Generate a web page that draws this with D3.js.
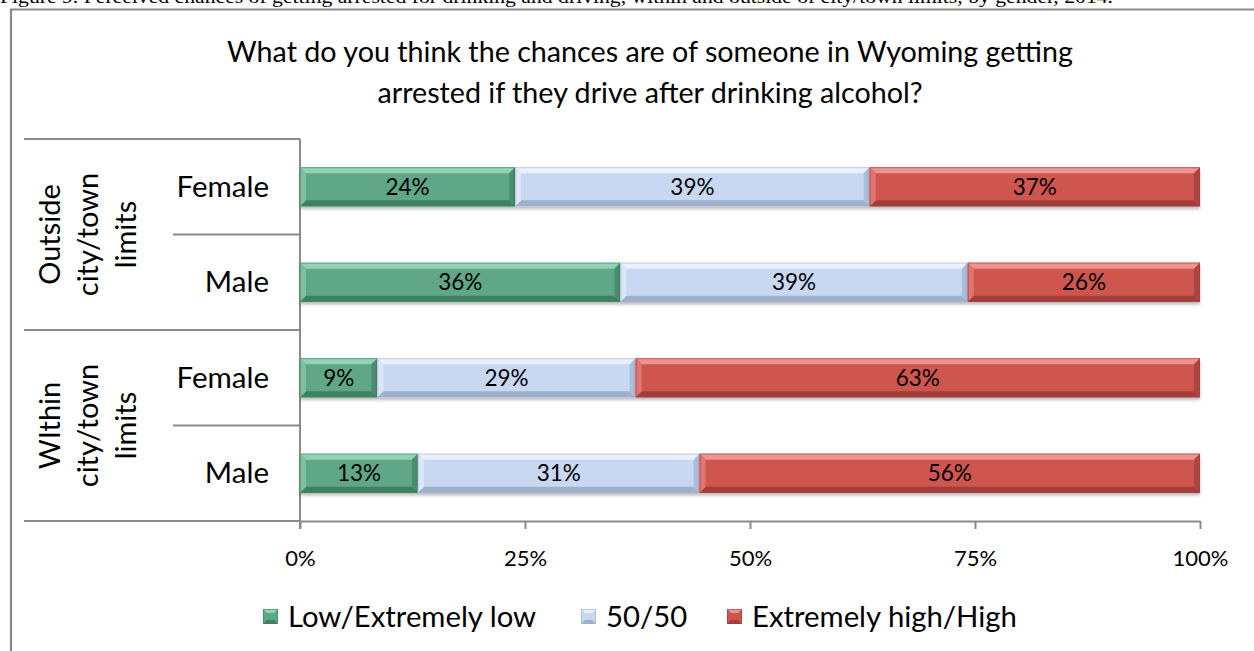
<!DOCTYPE html>
<html>
<head>
<meta charset="utf-8">
<script src="https://cdn.jsdelivr.net/npm/d3@7"></script>
<style>
  html, body { margin: 0; padding: 0; background: #fff; }
  svg { display: block; }
  text { font-family: Lato, "Open Sans", sans-serif; fill: #000; }
</style>
</head>
<body>
<script>
// ---------------- data ----------------
const caption = "Figure 9. Perceived chances of getting arrested for drinking and driving, within and outside of city/town limits, by gender, 2014.";
const titleLines = ["What do you think the chances are of someone in Wyoming getting", "arrested if they drive after drinking alcohol?"];
const groupLabels = [["Outside", "city/town", "limits"], ["WIthin", "city/town", "limits"]];
const genders = ["Female", "Male", "Female", "Male"];
const seriesNames = ["Low/Extremely low", "50/50", "Extremely high/High"];
const lowValues  = [23.9, 35.6, 8.6, 13.1];
const midValues  = [39.4, 38.6, 28.7, 31.3];
const highValues = [36.7, 25.8, 62.7, 55.6];
const tickValues = [0, 25, 50, 75, 100];

// ---------------- styles ----------------
const palette = [
  { base: "#5fa786", top: "#92d3b3", bottom: "#3f8062", left: "#7cc0a0", right: "#4b8f70" },
  { base: "#c9d8f2", top: "#eaf1fd", bottom: "#9fb0cc", left: "#dbe6f8", right: "#aebdd8" },
  { base: "#cf5450", top: "#ec9490", bottom: "#a03e3a", left: "#e07470", right: "#ad4642" }
];

const W = 1254, H = 651;
const svg = d3.select("body").append("svg").attr("width", W).attr("height", H);

const defs = svg.append("defs");
const f = defs.append("filter").attr("id", "shadow").attr("x", "-5%").attr("y", "-30%").attr("width", "110%").attr("height", "170%");
f.append("feDropShadow").attr("dx", 0).attr("dy", 2.5).attr("stdDeviation", 1.6)
  .attr("flood-color", "#000").attr("flood-opacity", 0.28);

// caption (cut at top, as in the source)
svg.append("text")
  .attr("x", 0).attr("y", 3)
  .style("font-family", "'Liberation Serif', 'DejaVu Serif', serif")
  .style("font-size", "19px")
  .attr("textLength", 1113).attr("lengthAdjust", "spacingAndGlyphs")
  .text(caption);

// frame
svg.append("path")
  .attr("d", `M11,${H} L11,9.5 L${W},9.5`)
  .attr("fill", "none").attr("stroke", "#8a8a8a").attr("stroke-width", 2.2);

// title
svg.append("g").selectAll("text").data(titleLines).join("text")
  .attr("x", 650).attr("y", (d, i) => 62 + i * 41)
  .attr("text-anchor", "middle")
  .style("font-size", "28.7px")
  .text(d => d);

// scales
const x = d3.scaleLinear().domain([0, 100]).range([300, 1200]);
const rows = d3.range(genders.length);
const y = d3.scaleBand().domain(rows).range([139, 521]).paddingInner(0.59).paddingOuter(0.295);
const step = y.step();
const boundary = i => (i === 0 ? y.range()[0] : i === rows.length ? y.range()[1] : y(i) - y.paddingInner() * step / 2);

// stacked data
const table = rows.map(i => ({ row: i, low: lowValues[i], mid: midValues[i], high: highValues[i] }));
const stack = d3.stack().keys(["low", "mid", "high"]);
const series = stack(table);

// category grid lines (left side)
const gridColor = "#8a8a8a";
const gl = svg.append("g");
rows.concat([rows.length]).forEach(i => {
  const major = i % 2 === 0;
  gl.append("line")
    .attr("x1", major ? 24 : 173).attr("x2", x(0))
    .attr("y1", boundary(i)).attr("y2", boundary(i))
    .attr("stroke", gridColor).attr("stroke-width", 2);
});

// x axis
const axisG = svg.append("g").attr("transform", `translate(0,${y.range()[1]})`)
  .call(d3.axisBottom(x).tickValues(tickValues).tickFormat(d => d + "%").tickSize(8).tickSizeOuter(0));
axisG.select(".domain").attr("stroke", gridColor).attr("stroke-width", 2);
axisG.selectAll(".tick line").attr("stroke", gridColor).attr("stroke-width", 2);
axisG.selectAll(".tick text").attr("y", 45).attr("dy", 0)
  .style("font-family", "Lato, sans-serif").style("font-size", "22px").attr("fill", "#000");

// vertical axis line
svg.append("line")
  .attr("x1", x(0)).attr("x2", x(0))
  .attr("y1", y.range()[0]).attr("y2", y.range()[1] + 8)
  .attr("stroke", gridColor).attr("stroke-width", 2);

// bars with bevel
const bev = 6;
const barsG = svg.append("g");
series.forEach((s, si) => {
  const col = palette[si];
  const g = barsG.append("g");
  const seg = g.selectAll("g.seg").data(s).join("g").attr("class", "seg");
  seg.each(function (d, k) {
    const el = d3.select(this);
    const x0 = x(d[0]), x1 = x(d[1]);
    const y0 = y(k), y1 = y(k) + y.bandwidth();
    const b = Math.min(bev, (x1 - x0) / 2);
    el.append("rect").attr("x", x0).attr("y", y0).attr("width", x1 - x0).attr("height", y1 - y0)
      .attr("fill", col.base).attr("filter", "url(#shadow)");
    el.append("path").attr("d", `M${x0},${y0}L${x1},${y0}L${x1 - b},${y0 + b}L${x0 + b},${y0 + b}Z`).attr("fill", col.top);
    el.append("path").attr("d", `M${x0},${y1}L${x1},${y1}L${x1 - b},${y1 - b}L${x0 + b},${y1 - b}Z`).attr("fill", col.bottom);
    el.append("path").attr("d", `M${x0},${y0}L${x0 + b},${y0 + b}L${x0 + b},${y1 - b}L${x0},${y1}Z`).attr("fill", col.left);
    el.append("path").attr("d", `M${x1},${y0}L${x1 - b},${y0 + b}L${x1 - b},${y1 - b}L${x1},${y1}Z`).attr("fill", col.right);
    el.append("rect").attr("x", x0 + 0.5).attr("y", y0 + 0.5).attr("width", x1 - x0 - 1).attr("height", y1 - y0 - 1)
      .attr("fill", "none").attr("stroke", col.bottom).attr("stroke-opacity", 0.5).attr("stroke-width", 1);
    el.append("text")
      .attr("x", (x0 + x1) / 2).attr("y", (y0 + y1) / 2 + 8)
      .attr("text-anchor", "middle").style("font-size", "22.5px")
      .text(Math.round(d[1] - d[0]) + "%");
  });
});

// gender labels
svg.append("g").selectAll("text").data(genders).join("text")
  .attr("x", 269).attr("y", (d, i) => y(i) + y.bandwidth() / 2 + 10)
  .attr("text-anchor", "end").style("font-size", "29.5px")
  .text(d => d);

// group labels (rotated)
groupLabels.forEach((lines, gi) => {
  const cy = (boundary(gi * 2) + boundary(gi * 2 + 2)) / 2;
  const g = svg.append("g").attr("transform", `translate(88,${cy}) rotate(-90)`);
  g.selectAll("text").data(lines).join("text")
    .attr("x", 0).attr("y", (d, i) => (i - 1) * 38 + 10)
    .attr("text-anchor", "middle").style("font-size", "29px")
    .text(d => d);
});

// legend
const legendX = [263, 581, 727];
const lg = svg.append("g");
seriesNames.forEach((name, i) => {
  const col = palette[i];
  const gx = legendX[i], gy = 609, s = 15, b = 4;
  const g = lg.append("g");
  g.append("rect").attr("x", gx).attr("y", gy).attr("width", s).attr("height", s).attr("fill", col.base);
  g.append("path").attr("d", `M${gx},${gy}L${gx + s},${gy}L${gx + s - b},${gy + b}L${gx + b},${gy + b}Z`).attr("fill", col.top);
  g.append("path").attr("d", `M${gx},${gy + s}L${gx + s},${gy + s}L${gx + s - b},${gy + s - b}L${gx + b},${gy + s - b}Z`).attr("fill", col.bottom);
  g.append("rect").attr("x", gx + 0.5).attr("y", gy + 0.5).attr("width", s - 1).attr("height", s - 1)
    .attr("fill", "none").attr("stroke", col.bottom).attr("stroke-opacity", 0.6);
  g.append("text").attr("x", gx + s + 10).attr("y", gy + 18)
    .style("font-size", "29.3px").text(name);
});
</script>
</body>
</html>
